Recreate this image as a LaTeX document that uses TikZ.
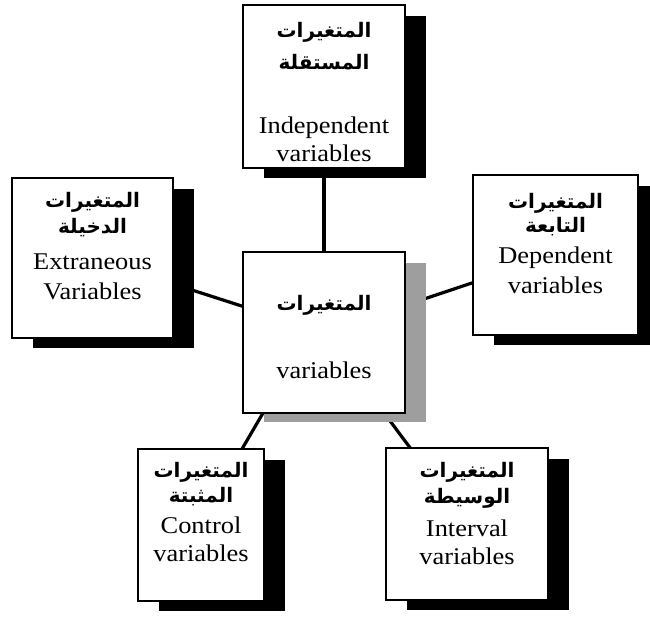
\documentclass[tikz,border=0pt]{standalone}
\usepackage{fontspec}
\setmainfont{Liberation Serif}[FakeStretch=1.1]
\newfontfamily\arabicfont[Script=Arabic]{DejaVu Sans}
\TeXXeTstate=1
\usetikzlibrary{calc}
\pgfdeclarelayer{lines}
\pgfdeclarelayer{shadows}
\pgfsetlayers{lines,shadows,main}
\tikzset{
  vbox/.style={draw=black, line width=1.6pt, fill=white, inner sep=0pt, outer sep=0pt},
  ar/.style={font=\arabicfont\bfseries\fontsize{20}{22}\selectfont, inner sep=0pt},
  en/.style={font=\fontsize{24}{26}\selectfont, inner sep=0pt},
  link/.style={line width=3.2pt, black},
  darkshadow/.style={fill=black},
  greyshadow/.style={fill=black!38}
}
\begin{document}
\begin{tikzpicture}[x=1pt,y=-1pt]
\useasboundingbox (0,0) rectangle (650,617);
% boxes
\node[vbox, minimum width=162, minimum height=163] (ind) at (324,86.5) {};
\node[vbox, minimum width=161, minimum height=160] (ext) at (92.5,258) {};
\node[vbox, minimum width=162, minimum height=161] (ctr) at (324,332.5) {};
\node[vbox, minimum width=165, minimum height=160] (dep) at (555.5,255) {};
\node[vbox, minimum width=126, minimum height=152] (ctl) at (201,525) {};
\node[vbox, minimum width=162, minimum height=152] (itv) at (467,524) {};
% shadows
\begin{pgfonlayer}{shadows}
\foreach \b in {ind,ext,dep,ctl,itv}{
  \fill[darkshadow] ([shift={(21,11)}]\b.north west) rectangle ([shift={(21,10)}]\b.south east);
}
\fill[greyshadow] ([shift={(21,11)}]ctr.north west) rectangle ([shift={(21,9)}]ctr.south east);
\end{pgfonlayer}
% connectors
\begin{pgfonlayer}{lines}
\draw[link] (ind.center) -- (ctr.center);
\draw[link] (ext.center) -- (ctr.center);
\draw[link] (dep.center) -- (ctr.center);
\draw[link] ([shift={(-61,0)}]ctr.south) -- ([shift={(41,0)}]ctl.north);
\draw[link] (itv.center) -- (ctr.center);
\end{pgfonlayer}
% texts
\node[ar] (indA1) at (324,32) {\beginR المتغيرات\endR};
\node[ar] (indA2) at (324,62) {\beginR المستقلة\endR};
\node[en] (indE1) at (324,128) {Independent};
\node[en] (indE2) at (324,153) {variables};

\node[ar] (extA1) at (92.5,202) {\beginR المتغيرات\endR};
\node[ar] (extA2) at (92.5,228) {\beginR الدخيلة\endR};
\node[en] (extE1) at (92.5,262) {Extraneous};
\node[en] (extE2) at (92.5,291) {Variables};

\node[ar] (ctrA1) at (324,305) {\beginR المتغيرات\endR};
\node[en] (ctrE1) at (324,370) {variables};

\node[ar] (depA1) at (555.5,203) {\beginR المتغيرات\endR};
\node[ar] (depA2) at (555.5,227) {\beginR التابعة\endR};
\node[en] (depE1) at (555.5,258) {Dependent};
\node[en] (depE2) at (555.5,285) {variables};

\node[ar] (ctlA1) at (201,472) {\beginR المتغيرات\endR};
\node[ar] (ctlA2) at (201,497) {\beginR المثبتة\endR};
\node[en] (ctlE1) at (201,525) {Control};
\node[en] (ctlE2) at (201,553) {variables};

\node[ar] (itvA1) at (467,472) {\beginR المتغيرات\endR};
\node[ar] (itvA2) at (467,498) {\beginR الوسيطة\endR};
\node[en] (itvE1) at (467,528) {Interval};
\node[en] (itvE2) at (467,556) {variables};
\end{tikzpicture}
\end{document}
